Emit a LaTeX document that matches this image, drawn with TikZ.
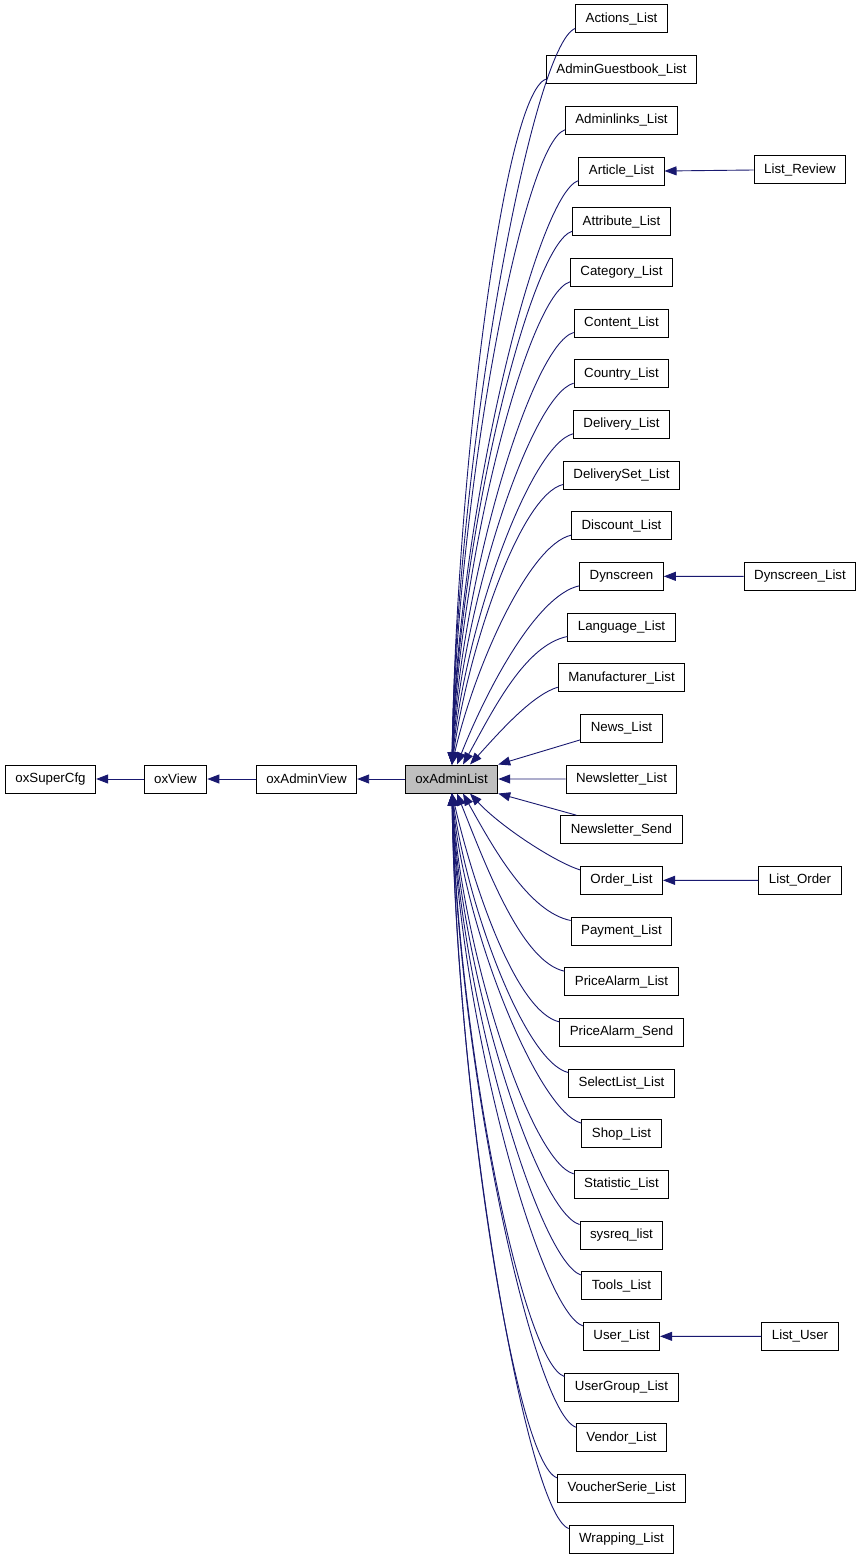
\documentclass[tikz,border=0pt]{standalone}
\usepackage{fontspec}
\setmainfont{Liberation Sans}
\usetikzlibrary{arrows.meta,calc}
\definecolor{edgeblue}{HTML}{191970}
\definecolor{rootgray}{HTML}{BFBFBF}
\begin{document}
\begin{tikzpicture}[x=1pt,y=-1pt,
  box/.style={draw=black,line width=1pt,minimum height=28pt,inner xsep=10pt,inner ysep=0pt,
    font=\fontsize{13.3}{15}\selectfont,fill=white},
  rootbox/.style={box,fill=rootgray},
  edge/.style={draw=edgeblue,line width=0.9pt,-{Triangle[length=12pt,width=9pt]}}
]
\useasboundingbox[fill=white] (0,0) rectangle (861,1557);

% base chain
\node[box] (oxSuperCfg) at (50.5,779) {oxSuperCfg};
\node[box] (oxView) at (175.5,779) {oxView};
\node[box] (oxAdminView) at (306.5,779) {oxAdminView};
\node[rootbox] (oxAdminList) at (451.5,779) {oxAdminList};

% derived classes
\foreach \i/\nm/\txt in {0/actions/Actions\_List,1/adminguestbook/AdminGuestbook\_List,
  2/adminlinks/Adminlinks\_List,3/article/Article\_List,4/attribute/Attribute\_List,
  5/category/Category\_List,6/content/Content\_List,7/country/Country\_List,
  8/delivery/Delivery\_List,9/deliveryset/DeliverySet\_List,10/discount/Discount\_List,
  11/dynscreen/Dynscreen,12/language/Language\_List,13/manufacturer/Manufacturer\_List,
  14/news/News\_List,15/newsletterlist/Newsletter\_List,16/newslettersend/Newsletter\_Send,
  17/order/Order\_List,18/payment/Payment\_List,19/pricealarmlist/PriceAlarm\_List,
  20/pricealarmsend/PriceAlarm\_Send,21/selectlist/SelectList\_List,22/shop/Shop\_List,
  23/statistic/Statistic\_List,24/sysreq/sysreq\_list,25/tools/Tools\_List,
  26/user/User\_List,27/usergroup/UserGroup\_List,28/vendor/Vendor\_List,
  29/voucherserie/VoucherSerie\_List,30/wrapping/Wrapping\_List}
  {\node[box] (\nm) at (621.5,{19+50.667*\i}) {\txt};}

% third level
\node[box] (listreview) at (800,170) {List\_Review};
\node[box] (dynscreenlist) at (800,576.3) {Dynscreen\_List};
\node[box] (listorder) at (800,880.3) {List\_Order};
\node[box] (listuser) at (800,1336.3) {List\_User};

% edges of the chain
\draw[edge] (oxView.west) -- (oxSuperCfg.east);
\draw[edge] (oxAdminView.west) -- (oxView.east);
\draw[edge] (oxAdminList.west) -- (oxAdminView.east);

\draw[edge] (listreview.west) -- (article.east);
\draw[edge] (dynscreenlist.west) -- (dynscreen.east);
\draw[edge] (listorder.west) -- (order.east);
\draw[edge] (listuser.west) -- (user.east);

% near children
\draw[edge] ($(news.south west)+(0,-3)$) -- (oxAdminList.north east);
\draw[edge] (newsletterlist.west) -- (oxAdminList.east);
\draw[edge] ($(newslettersend.north west)+(16,0)$) -- (oxAdminList.south east);

% upper fan
\foreach \i/\nm in {0/actions,1/adminguestbook,2/adminlinks,3/article,4/attribute,
  5/category,6/content,7/country,8/delivery,9/deliveryset,10/discount,11/dynscreen,
  12/language,13/manufacturer}{
  \pgfmathsetmacro\k{15-\i}
  \pgfmathsetmacro\tx{ifthenelse(\k>=5,452,ifthenelse(\k==4,457,ifthenelse(\k==3,463,470)))-451.5}
  \pgfmathsetmacro\dy{765-(19+50.667*\i+9)}
  \pgfmathsetmacro\xf{min(0.26,0.28*(180/\dy)*sqrt(180/\dy))}
  \pgfmathsetmacro\cax{-min(42.5,0.33*\dy)}
  \pgfmathsetmacro\cay{0.012*\dy+7}
  \pgfmathsetmacro\cbx{\xf*115}
  \pgfmathsetmacro\cby{-0.42*\dy}
  \draw[edge] ($(\nm.south west)+(0,-5)$) .. controls +(\cax,\cay) and +(\cbx,\cby) .. ($(oxAdminList.north)+(\tx,0)$);
}

% lower fan
\foreach \i/\nm in {17/order,18/payment,19/pricealarmlist,20/pricealarmsend,21/selectlist,
  22/shop,23/statistic,24/sysreq,25/tools,26/user,27/usergroup,28/vendor,29/voucherserie,
  30/wrapping}{
  \pgfmathsetmacro\k{\i-15}
  \pgfmathsetmacro\tx{ifthenelse(\k>=5,452,ifthenelse(\k==4,457,ifthenelse(\k==3,463,470)))-451.5}
  \pgfmathsetmacro\dy{(19+50.667*\i-10)-793}
  \pgfmathsetmacro\xf{min(0.26,0.28*(180/\dy)*sqrt(180/\dy))}
  \pgfmathsetmacro\cax{-min(42.5,0.33*\dy)}
  \pgfmathsetmacro\cay{-(0.012*\dy+7)}
  \pgfmathsetmacro\cbx{\xf*115}
  \pgfmathsetmacro\cby{0.42*\dy}
  \draw[edge] ($(\nm.north west)+(0,4)$) .. controls +(\cax,\cay) and +(\cbx,\cby) .. ($(oxAdminList.south)+(\tx,0)$);
}
\end{tikzpicture}
\end{document}
